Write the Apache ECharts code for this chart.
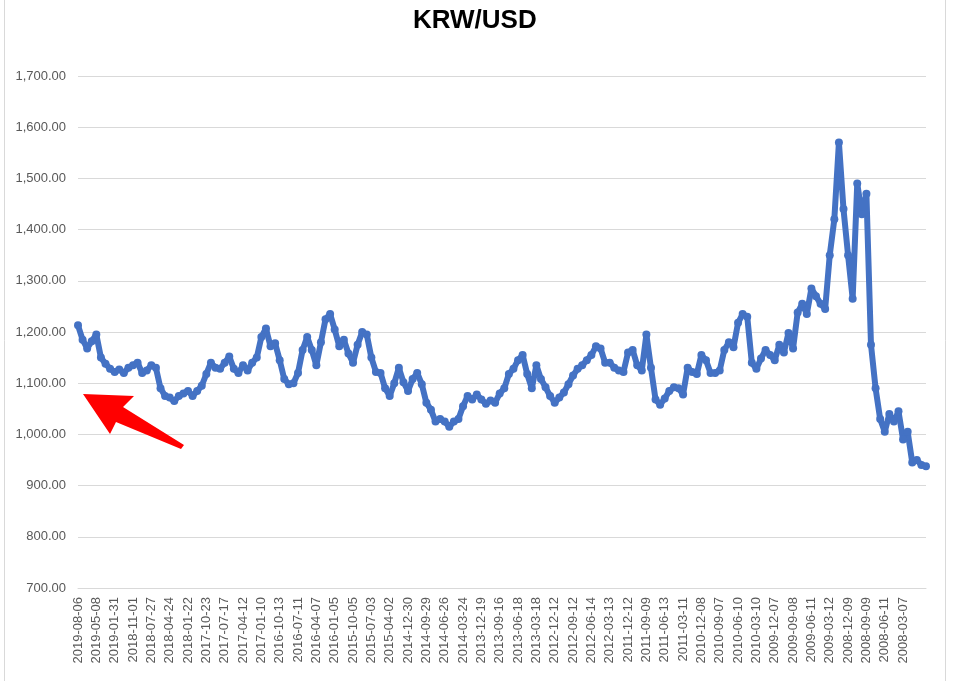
<!DOCTYPE html>
<html>
<head>
<meta charset="utf-8">
<title>KRW/USD</title>
<script src="https://cdn.jsdelivr.net/npm/echarts@6/dist/echarts.min.js"></script>
<style>
	html, body { margin: 0; padding: 0; background: #fff; }
	#chart { width: 956px; height: 681px; }
</style>
</head>
<body>
<div id="chart"></div>
<script>
/**
 * 数据：每个刻度标签之间取 4 个点
 * **/
var tickLabels = ['2019-08-06', '2019-05-08', '2019-01-31', '2018-11-01', '2018-07-27', '2018-04-24',
	'2018-01-22', '2017-10-23', '2017-07-17', '2017-04-12', '2017-01-10', '2016-10-13', '2016-07-11',
	'2016-04-07', '2016-01-05', '2015-10-05', '2015-07-03', '2015-04-02', '2014-12-30', '2014-09-29',
	'2014-06-26', '2014-03-24', '2013-12-19', '2013-09-16', '2013-06-18', '2013-03-18', '2012-12-12',
	'2012-09-12', '2012-06-14', '2012-03-13', '2011-12-12', '2011-09-09', '2011-06-13', '2011-03-11',
	'2010-12-08', '2010-09-07', '2010-06-10', '2010-03-10', '2009-12-07', '2009-09-08', '2009-06-11',
	'2009-03-12', '2008-12-09', '2008-09-09', '2008-06-11', '2008-03-07'];
var step = 4;

var rates2019to2017 = [1213, 1185, 1168, 1182, 1195, 1150, 1138, 1128, 1122, 1127, 1120, 1130,
	1135, 1140, 1120, 1125, 1135, 1130, 1090, 1075, 1072, 1065, 1075, 1080,
	1085, 1075, 1085, 1095, 1118, 1140, 1130, 1128, 1140, 1152, 1128, 1120,
	1135, 1125, 1140, 1150, 1190, 1207, 1172, 1178, 1145, 1108, 1098];
var rates2016to2014 = [1100, 1120, 1165, 1190, 1165, 1135, 1180, 1225, 1235, 1205, 1172, 1185,
	1158, 1140, 1175, 1200, 1195, 1150, 1122, 1120, 1090, 1075, 1100,
	1130, 1102, 1085, 1108, 1120, 1098, 1062, 1048, 1025, 1030, 1025, 1015,
	1025, 1030, 1055, 1075, 1068, 1078, 1068, 1060, 1066, 1062, 1080];
var rates2013to2011 = [1090, 1118, 1128, 1145, 1155, 1118, 1090, 1135, 1108, 1092, 1075, 1062,
	1072, 1082, 1098, 1115, 1128, 1135, 1145, 1155, 1172, 1168, 1140,
	1140, 1130, 1125, 1122, 1160, 1165, 1135, 1125, 1195, 1130, 1068, 1058,
	1070, 1085, 1092, 1090, 1078, 1130, 1122, 1118, 1155, 1145, 1120];
var rates2010to2008 = [1120, 1125, 1165, 1180, 1170, 1218, 1235, 1230, 1140, 1128, 1148, 1165,
	1155, 1145, 1175, 1160, 1198, 1168, 1238, 1255, 1235, 1285, 1270,
	1255, 1245, 1350, 1420, 1570, 1440, 1350, 1265, 1490, 1430, 1470, 1175,
	1090, 1030, 1005, 1040, 1025, 1045, 990, 1005, 945, 950, 940, 938];

var rates = rates2019to2017.concat(rates2016to2014, rates2013to2011, rates2010to2008);
var categories = rates.map(function(v, i) {
	return String(i);
});

var myChart = echarts.init(document.getElementById('chart'));
var option = {
	animation: false,
	backgroundColor: '#fff',
	title: {
		text: 'KRW/USD',
		left: 408,
		top: 3,
		textStyle: {
			fontFamily: 'Liberation Sans',
			fontSize: 26,
			fontWeight: 'bold',
			color: '#000'
		}
	},
	grid: {
		left: 78,
		right: 30,
		top: 76,
		bottom: 93
	},
	xAxis: {
		type: 'category',
		boundaryGap: false,
		data: categories,
		axisLine: {
			lineStyle: {
				color: '#d9d9d9'
			}
		},
		axisTick: {
			show: false
		},
		axisLabel: {
			interval: step - 1,
			rotate: 90,
			margin: 9,
			color: '#595959',
			fontFamily: 'Liberation Sans',
			fontSize: 13,
			formatter: function(value, index) {
				return tickLabels[index / step] || '';
			}
		},
		splitLine: {
			show: false
		}
	},
	yAxis: {
		type: 'value',
		min: 700,
		max: 1700,
		interval: 100,
		axisLine: {
			show: false
		},
		axisTick: {
			show: false
		},
		axisLabel: {
			margin: 12,
			color: '#595959',
			fontFamily: 'Liberation Sans',
			fontSize: 13,
			formatter: function(v) {
				return v.toLocaleString('en-US', {
					minimumFractionDigits: 2,
					maximumFractionDigits: 2
				});
			}
		},
		splitLine: {
			lineStyle: {
				color: '#d9d9d9'
			}
		}
	},
	series: [{
		name: 'KRW/USD',
		type: 'line',
		data: rates,
		symbol: 'circle',
		symbolSize: 8,
		showAllSymbol: true,
		itemStyle: {
			color: '#4472c4'
		},
		lineStyle: {
			color: '#4472c4',
			width: 6
		}
	}],
	graphic: [{
		type: 'rect',
		silent: true,
		shape: { x: 4.5, y: -5, width: 941, height: 700 },
		style: { fill: 'none', stroke: '#d9d9d9', lineWidth: 1 }
	}, {
		type: 'polygon',
		silent: true,
		z: 100,
		shape: {
			points: [[83, 394], [134, 396], [123, 407], [184, 445], [181, 449], [116, 422], [110, 434]]
		},
		style: { fill: '#ff0000' }
	}]
};
myChart.setOption(option);
</script>
</body>
</html>
